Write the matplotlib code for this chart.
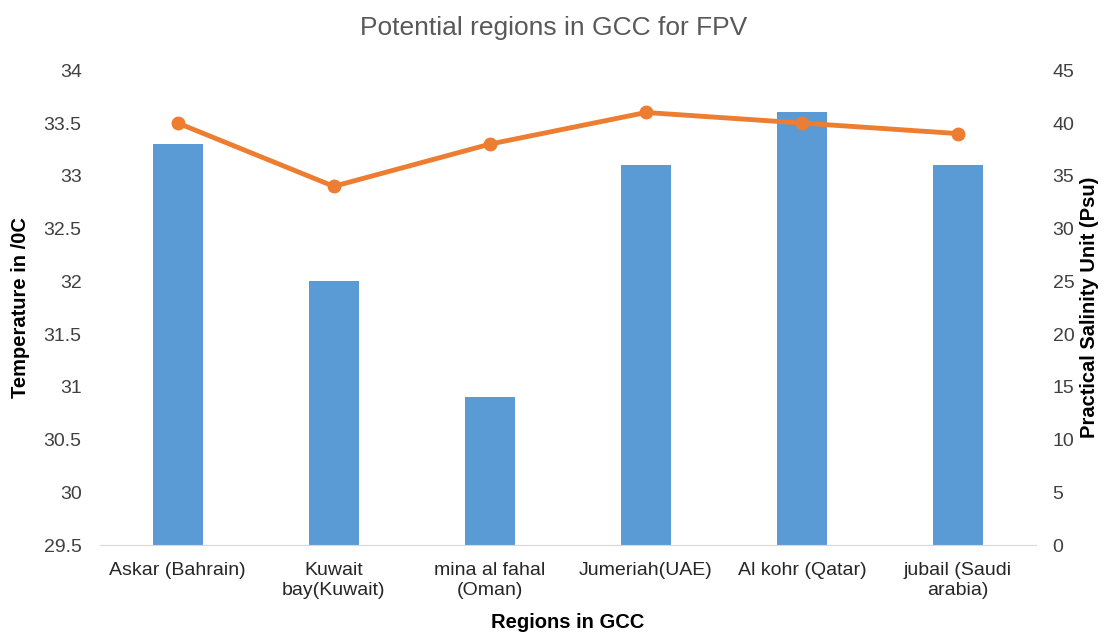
import matplotlib
matplotlib.use("Agg")
import matplotlib.pyplot as plt
import numpy as np

plt.rcParams['font.family'] = ['Liberation Sans', 'DejaVu Sans']

# Datos
regions = ["Askar (Bahrain)", "Kuwait\nbay(Kuwait)", "mina al fahal\n(Oman)",
           "Jumeriah(UAE)", "Al kohr (Qatar)", "jubail (Saudi\narabia)"]
temperature = [33.3, 32.0, 30.9, 33.1, 33.6, 33.1]
salinity = [40, 34, 38, 41, 40, 39]
temp_ticks = [29.5, 30, 30.5, 31, 31.5, 32, 32.5, 33, 33.5, 34]
sal_ticks = [0, 5, 10, 15, 20, 25, 30, 35, 40, 45]

fig = plt.figure(figsize=(11.08, 6.39), dpi=100)
ax = fig.add_axes([0.09, 0.147, 0.845, 0.743])
x = np.arange(len(regions))

ax.bar(x, [t - 29.5 for t in temperature], bottom=29.5, width=0.32, color="#5b9bd5")
ax.set_ylim(29.5, 34)
ax.set_xlim(-0.5, len(regions) - 0.5)
ax.set_yticks(temp_ticks)
ax.set_yticklabels([f"{t:g}" for t in temp_ticks])
ax.set_xticks(x)
ax.set_xticklabels(regions, fontsize=14, color="#262626", linespacing=1.25)
ax.tick_params(axis="both", length=0, labelsize=14, labelcolor="#404040")
ax.tick_params(axis="x", pad=12, labelcolor="#262626")
ax.tick_params(axis="y", pad=13)
for s in ["top", "left", "right"]:
    ax.spines[s].set_visible(False)
ax.spines["bottom"].set_color("#d9d9d9")
ax.set_ylabel("Temperature in /0C", fontsize=14.5, fontweight="bold", labelpad=10)
ax.set_xlabel("Regions in GCC", fontsize=14.5, fontweight="bold", labelpad=10)

ax2 = ax.twinx()
ax2.plot(x, salinity, color="#ed7d31", linewidth=3.5, marker="o", markersize=9)
ax2.set_ylim(0, 45)
ax2.set_yticks(sal_ticks)
ax2.tick_params(axis="y", length=0, labelsize=14, labelcolor="#404040", pad=12)
for s in ["top", "left", "right", "bottom"]:
    ax2.spines[s].set_visible(False)
ax2.set_ylabel("Practical Salinity Unit (Psu)", fontsize=14.5, fontweight="bold", labelpad=4)

fig.suptitle("Potential regions in GCC for FPV", fontsize=19, color="#595959", y=0.975)

fig.savefig("out.png", dpi=100)
